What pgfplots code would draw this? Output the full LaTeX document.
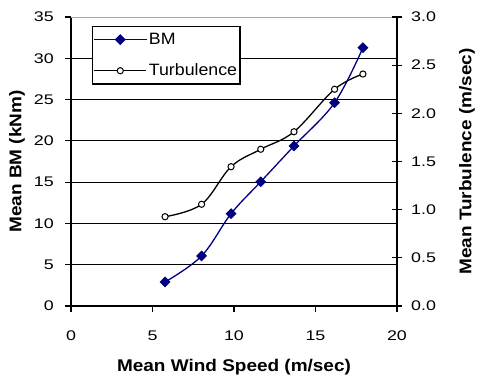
\documentclass[border=0pt]{standalone}
\usepackage{fontspec}
\setmainfont{Liberation Sans}
\newfontfamily\tickfont[FakeStretch=1.28]{Liberation Sans}
\newfontfamily\labelfont[FakeStretch=1.12]{Liberation Sans Bold}
\newfontfamily\legfont[FakeStretch=1.08]{Liberation Sans}
\usepackage{pgfplots}
\usepackage{pgfplotstable}
\pgfplotsset{compat=1.18}
\definecolor{bmnavy}{RGB}{0,0,128}

\pgfplotstableread{
speed bm
5.77  2.91
8.01  6.06
9.82  11.18
11.64 15.05
13.68 19.38
16.17 24.62
17.91 31.28
}\bmdata

\pgfplotstableread{
speed turb
5.77  0.927
8.01  1.056
9.82  1.446
11.64 1.627
13.68 1.809
16.17 2.250
17.91 2.408
}\turbdata

\newcommand{\labfont}{\labelfont\fontsize{17}{17}\selectfont}

\pgfplotsset{
  common/.style={
    scale only axis,
    width=326bp, height=289bp,
    xmin=0, xmax=20,
    xtick={0,5,...,20},
    tick style={black, line width=1.2bp},
    major tick length=6bp,
    tick label style={font=\tickfont\fontsize{14}{14}\selectfont},
    /pgf/number format/assume math mode=true,
  },
}

\begin{document}
\begin{tikzpicture}
% left axis: bending moment
\begin{axis}[
  common,
  ymin=0, ymax=35, ytick={0,5,...,35},
  axis x line*=bottom, axis y line*=left,
  axis line style={black, line width=1.8bp, -},
  tick align=outside,
  ymajorgrids, grid style={black, line width=0.8bp},
  xticklabel style={anchor=center, yshift=-24bp},
  yticklabel style={anchor=east, inner sep=0pt, xshift=-11bp},
  xlabel={Mean Wind Speed (m/sec)},
  ylabel={Mean BM (kNm)},
  every axis x label/.style={at={(axis description cs:0.5,0)}, anchor=center,
    yshift=-61bp, font=\labfont},
  every axis y label/.style={at={(axis description cs:0,0.5)}, anchor=center,
    rotate=90, yshift=54bp, font=\labfont},
  legend style={
    at={(axis description cs:0.064,0.969)}, anchor=north west,
    draw=black, line width=1.5bp, fill=white,
    inner xsep=1bp, inner ysep=5.5bp, row sep=16bp,
    font=\legfont\fontsize{16.5}{16.5}\selectfont,
    nodes={inner xsep=2bp, inner ysep=1bp},
  },
  legend cell align=left,
  legend image code/.code={
    \draw[mark repeat=2, mark phase=2, #1]
      plot coordinates {(0bp,0bp) (26bp,0bp) (52bp,0bp)};
  },
]
\draw[gray!70, line width=1.2bp] (rel axis cs:0,1) -- (rel axis cs:1,1);
\addplot[bmnavy, line width=1.3bp, smooth, tension=0.6,
  mark=square*, mark size=3.2bp, mark options={rotate=45, solid, fill=bmnavy}]
  table[x=speed, y=bm] {\bmdata};
\addlegendentry{BM}
\addlegendimage{black, line width=1.3bp, mark=*, mark size=3.1bp,
  mark options={fill=white, line width=1bp}}
\addlegendentry{Turbulence}
\end{axis}

% right axis: turbulence
\begin{axis}[
  common,
  ymin=0, ymax=3, ytick={0,0.5,...,3},
  axis y line*=right, axis x line=none,
  axis line style={black, line width=1.8bp, -},
  tick align=center, major tick length=10bp,
  yticklabel style={anchor=west, inner sep=0pt, xshift=9bp,
    /pgf/number format/.cd, fixed, fixed zerofill, precision=1},
  ylabel={Mean Turbulence (m/sec)},
  every axis y label/.style={at={(axis description cs:1,0.5)}, anchor=center,
    rotate=90, yshift=-70bp, font=\labfont},
]
\addplot[black, line width=1.3bp, smooth, tension=0.6,
  mark=*, mark size=3.1bp, mark options={fill=white, line width=1bp}]
  table[x=speed, y=turb] {\turbdata};
\end{axis}

\pgfresetboundingbox
\useasboundingbox (-71bp,-76bp) rectangle (408bp,306bp);
\end{tikzpicture}
\end{document}
